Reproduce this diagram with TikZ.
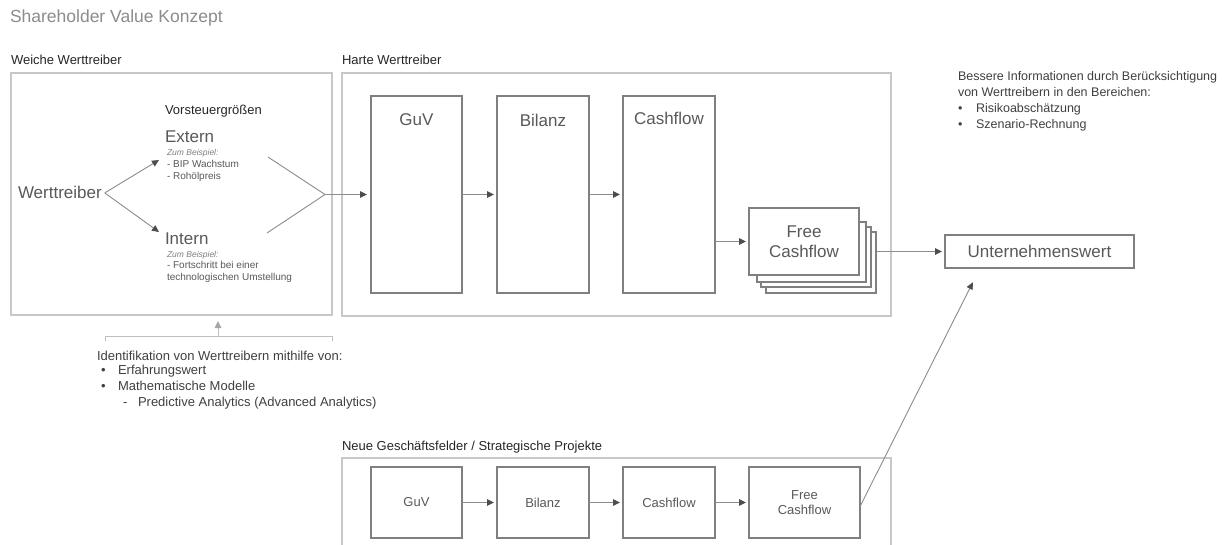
\documentclass[tikz,border=0pt]{standalone}
\usepackage{fontspec}
\setmainfont{Liberation Sans}
\usetikzlibrary{arrows.meta,calc}
\definecolor{ctitle}{HTML}{8C8C8C}
\definecolor{cdark}{HTML}{262626}
\definecolor{cmid}{HTML}{595959}
\definecolor{clight}{HTML}{7F7F7F}
\definecolor{ctext}{HTML}{404040}
\definecolor{cbox}{HTML}{808080}
\definecolor{ccont}{HTML}{C8C8C8}
\definecolor{cline}{HTML}{8C8C8C}
\definecolor{ctip}{HTML}{4D4D4D}
\definecolor{cbrk}{HTML}{BFBFBF}
\definecolor{cgtip}{HTML}{A6A6A6}
\tikzset{
  txt/.style={inner sep=0pt, outer sep=0pt, anchor=base west},
  ctxt/.style={inner sep=0pt, outer sep=0pt, anchor=base},
  fT/.style={font=\fontsize{17.5}{20}\selectfont},
  fA/.style={font=\fontsize{17}{20}\selectfont},
  fB/.style={font=\fontsize{17}{20}\selectfont},
  fC/.style={font=\fontsize{13}{15}\selectfont},
  fR/.style={font=\fontsize{12.5}{15}\selectfont},
  fD/.style={font=\fontsize{13}{15.5}\selectfont},
  fE/.style={font=\fontsize{10}{12}\selectfont},
  fI/.style={font=\fontsize{8.5}{10}\selectfont\itshape},
  container/.style={draw=ccont, line width=1.5pt, inner sep=0pt, outer sep=0pt},
  pbox/.style={draw=cbox, line width=1.3pt, fill=white, inner sep=0pt, outer sep=0pt, text=cmid},
  plain/.style={draw=cline, line width=0.9pt},
  arr/.style={draw=cline, line width=0.9pt, -{Triangle[length=7pt,width=6.5pt,color=ctip,fill=ctip]}},
  garr/.style={draw=cbrk, line width=0.9pt, -{Triangle[length=7pt,width=6.5pt,color=cgtip,fill=cgtip]}},
  brk/.style={draw=cbrk, line width=0.9pt},
}
\begin{document}
\begin{tikzpicture}[x=1pt,y=-1pt]
\useasboundingbox (0,0) rectangle (1222,545);
\clip (0,0) rectangle (1222,545);
\fill[white] (0,0) rectangle (1222,545);

% title and section labels
\node[txt, fT, text=ctitle] (title) at (10,23) {Shareholder Value Konzept};
\node[txt, fC, text=cdark] (lblW) at (11,65) {Weiche Werttreiber};
\node[txt, fC, text=cdark] (lblH) at (342,65) {Harte Werttreiber};

% containers
\node[container, minimum width=321pt, minimum height=242pt] (weiche) at (171.5,194) {};
\node[container, minimum width=549pt, minimum height=243pt] (harte) at (616.5,194.5) {};

% soft value drivers
\node[txt, fC, text=cdark] (vsg) at (165,115) {Vorsteuergrößen};
\node[txt, fA, text=cmid] (ext) at (165,143) {Extern};
\node[txt, fI, text=clight] (extz) at (167,156) {Zum Beispiel:};
\node[txt, fE, text=cmid] (ext1) at (167,167.5) {- BIP Wachstum};
\node[txt, fE, text=cmid] (ext2) at (167,180) {- Rohölpreis};
\node[txt, fB, text=cmid] (wt) at (18,199) {Werttreiber};
\node[txt, fA, text=cmid] (int) at (165,244) {Intern};
\node[txt, fI, text=clight] (intz) at (167,257) {Zum Beispiel:};
\node[txt, fE, text=cmid] (int1) at (167,268.5) {- Fortschritt bei einer};
\node[txt, fE, text=cmid] (int2) at (167,280.5) {technologischen Umstellung};

\coordinate (extIn) at (159,160);
\coordinate (intIn) at (159,232);
\draw[arr] ([xshift=3pt]wt.east) -- (extIn);
\draw[arr] ([xshift=3pt]wt.east) -- (intIn);

\coordinate (extOut) at (268,157);
\coordinate (intOut) at (267,233);
\coordinate (merge) at (325,194.5);
\draw[plain] (extOut) -- (merge) -- (intOut);

% hard value drivers
\node[pbox, minimum width=91pt, minimum height=197pt] (guv) at (416.5,194.5) {};
\node[pbox, minimum width=92pt, minimum height=197pt] (bil) at (543,194.5) {};
\node[pbox, minimum width=92pt, minimum height=197pt] (cf) at (669,194.5) {};
\node[ctxt, fA, text=cmid] (guvT) at (416.5,126) {GuV};
\node[ctxt, fA, text=cmid] (bilT) at (543,127) {Bilanz};
\node[ctxt, fA, text=cmid] (cfT) at (669,125) {Cashflow};

\node[pbox, minimum width=110pt, minimum height=61pt] (fs3) at (821,262.5) {};
\node[pbox, minimum width=110pt, minimum height=60pt] (fs2) at (816,257) {};
\node[pbox, minimum width=109pt, minimum height=60pt] (fs1) at (811.5,252) {};
\node[pbox, minimum width=110pt, minimum height=67pt, align=center, fA] (free) at (804,241.5) {Free\\Cashflow};

\node[pbox, minimum width=189pt, minimum height=33pt, fA] (uw) at (1039.5,251.5) {Unternehmenswert};

\draw[arr, shorten >=4pt] (merge) -- (guv.west);
\draw[arr, shorten >=3pt] (guv) -- (bil);
\draw[arr, shorten >=3pt] (bil) -- (cf);
\draw[arr, shorten >=3pt] (cf.east |- free.west) -- (free.west);
\draw[arr, shorten >=3pt] (fs3.east |- uw.west) -- (uw.west);

% info text top right
\node[txt, fR, text=ctext] (info1) at (958,81) {Bessere Informationen durch Berücksichtigung};
\node[txt, fR, text=ctext] (info2) at (958,97) {von Werttreibern in den Bereichen:};
\node[txt, fR, text=ctext] (infob1) at (958,113) {•};
\node[txt, fR, text=ctext] (infoi1) at (976,113) {Risikoabschätzung};
\node[txt, fR, text=ctext] (infob2) at (958,129) {•};
\node[txt, fR, text=ctext] (infoi2) at (976,129) {Szenario-Rechnung};

% identification bracket and text
\draw[brk] (105,341) -- (105,336) -- (332,336) -- (332,341);
\coordinate (brkM) at (218,336);
\draw[garr, shorten >=6pt] (brkM) -- (brkM |- weiche.south);
\node[txt, fD, text=ctext] (idf) at (97,360) {Identifikation von Werttreibern mithilfe von:};
\node[txt, fD, text=ctext] (idb1) at (101,374) {•};
\node[txt, fD, text=ctext] (idi1) at (118,374) {Erfahrungswert};
\node[txt, fD, text=ctext] (idb2) at (101,390) {•};
\node[txt, fD, text=ctext] (idi2) at (118,390) {Mathematische Modelle};
\node[txt, fD, text=ctext] (idd3) at (123,406) {-};
\node[txt, fD, text=ctext] (idi3) at (138,406) {Predictive Analytics (Advanced Analytics)};

% new business fields
\node[txt, fD, text=cdark] (lblN) at (342,450) {Neue Geschäftsfelder / Strategische Projekte};
\node[container, minimum width=549pt, minimum height=120pt, anchor=north] (neu) at (616.5,458) {};
\node[pbox, minimum width=91pt, minimum height=71pt, fD] (nguv) at (416.5,502.5) {GuV};
\node[pbox, minimum width=92pt, minimum height=71pt, fD] (nbil) at (543,502.5) {Bilanz};
\node[pbox, minimum width=92pt, minimum height=71pt, fD] (ncf) at (669,502.5) {Cashflow};
\node[pbox, minimum width=111pt, minimum height=71pt, fD, align=center] (nfree) at (804.5,502.5) {Free\\Cashflow};
\draw[arr, shorten >=3pt] (nguv) -- (nbil);
\draw[arr, shorten >=3pt] (nbil) -- (ncf);
\draw[arr, shorten >=3pt] (ncf) -- (nfree);
\draw[plain, -{Triangle[length=7pt,width=6.5pt,color=ctip,fill=ctip]}, shorten >=16pt] ([yshift=-4pt]nfree.east) -- ([xshift=-59.5pt]uw.south);
\end{tikzpicture}
\end{document}
